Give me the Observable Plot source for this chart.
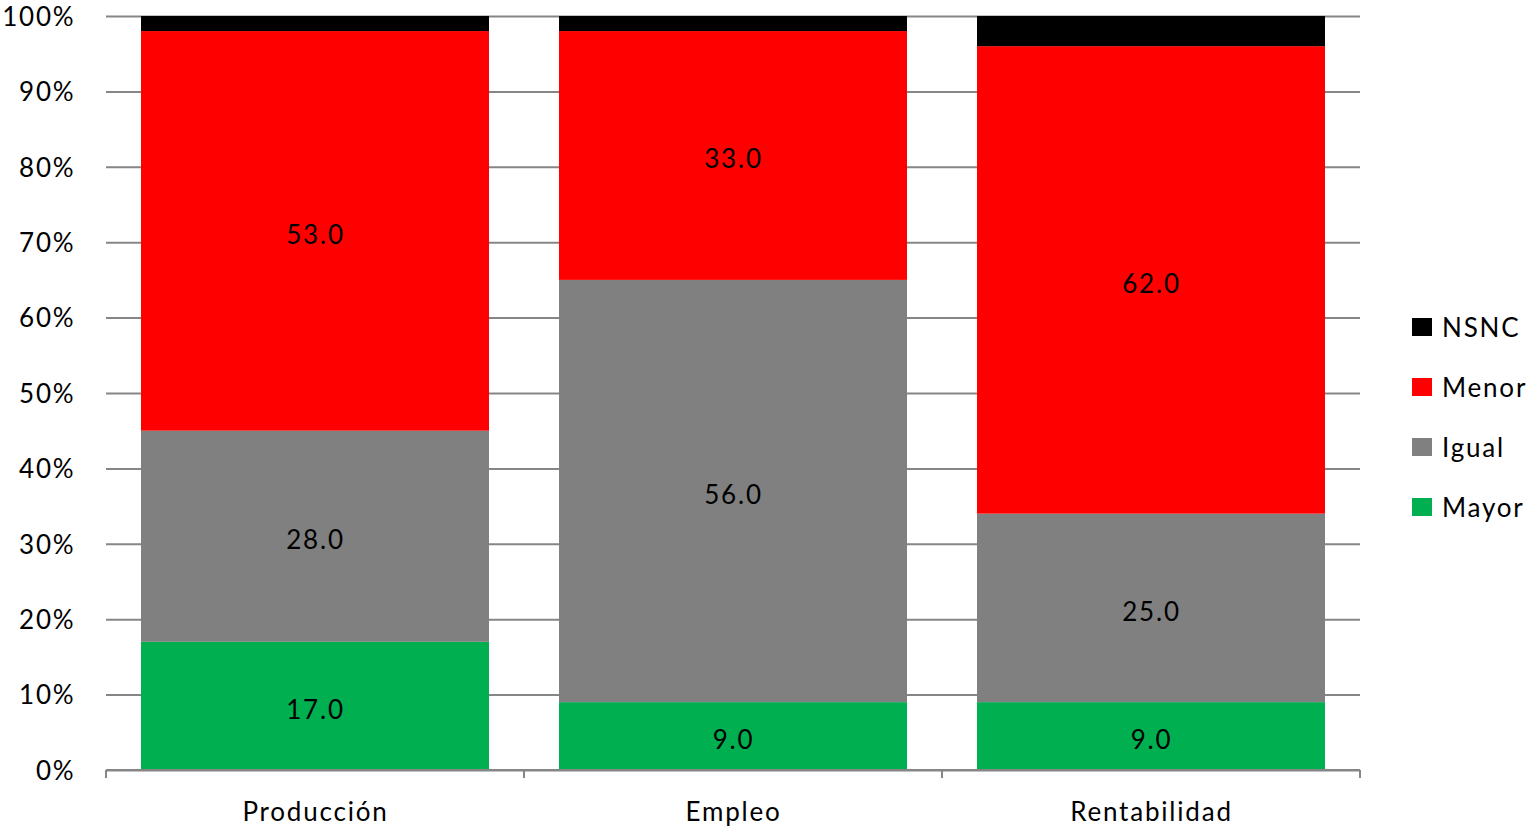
<!DOCTYPE html>
<html>
<head>
<meta charset="utf-8">
<script src="https://cdn.jsdelivr.net/npm/d3@7"></script>
<script src="https://cdn.jsdelivr.net/npm/@observablehq/plot@0.6"></script>
<style>
  html, body { margin: 0; padding: 0; background: #fff; }
  body { width: 1531px; height: 829px; position: relative; overflow: hidden; font-family: Lato, "Noto Sans", sans-serif; }
  #chart { position: absolute; left: 0; top: 0; }
  #chart svg { overflow: visible; }
  #chart svg text { letter-spacing: 1.8px; }
  #legend { position: absolute; left: 1412px; top: 312px; font-size: 26px; color: #000; letter-spacing: 1.8px; }
  .sw { width: 20px; height: 18px; margin-right: 10px; }
  .item { display: flex; align-items: center; height: 30px; margin-bottom: 30px; white-space: nowrap; }
</style>
</head>
<body>
<div id="chart"></div>
<div id="legend"></div>
<script>
const categories = ["Producción", "Empleo", "Rentabilidad"];
const series = ["Mayor", "Igual", "Menor", "NSNC"];
const colors = ["#00B050", "#808080", "#FF0000", "#000000"];
const mayor = [17, 9, 9];
const igual = [28, 56, 25];
const menor = [53, 33, 62];
const nsnc = [2, 2, 4];
const yTicks = [0, 0.1, 0.2, 0.3, 0.4, 0.5, 0.6, 0.7, 0.8, 0.9, 1];

const valuesBySeries = { Mayor: mayor, Igual: igual, Menor: menor, NSNC: nsnc };
const data = [];
categories.forEach((c, i) => {
  series.forEach(s => data.push({ category: c, series: s, value: valuesBySeries[s][i] }));
});

const font = "Lato, 'Noto Sans', sans-serif";
const padInner = 0.167;

const chart = Plot.plot({
  width: 1390,
  height: 829,
  marginLeft: 106,
  marginRight: 30,
  marginTop: 16,
  marginBottom: 59,
  style: { fontFamily: font, fontSize: "26px", color: "#000", background: "#fff" },
  x: { domain: categories, paddingInner: padInner, paddingOuter: padInner / 2, label: null },
  y: { domain: [0, 1], label: null },
  color: { domain: series, range: colors },
  marks: [
    Plot.ruleY(yTicks, { stroke: "#868686", strokeWidth: 2 }),
    Plot.barY(data, Plot.stackY({ x: "category", y: "value", z: "series", fill: "series", order: series, offset: "normalize" })),
    Plot.text(data, Plot.stackY({
      x: "category", y: "value", z: "series", order: series, offset: "normalize",
      text: d => d.series === "NSNC" ? null : d.value.toFixed(1),
      fill: "#000", fontSize: 26, dy: 4
    })),
    Plot.axisY({ ticks: yTicks, tickFormat: d3.format(".0%"), tickSize: 0, tickPadding: 31, fontSize: 26, dy: 1 }),
    Plot.axisX({ tickSize: 0, tickPadding: 32, fontSize: 26 })
  ]
});

// category boundary tick marks on the baseline, derived from the band scale
const xs = chart.scale("x");
const ys = chart.scale("y");
const sx = d3.scaleBand().domain(xs.domain).range(xs.range).paddingInner(xs.paddingInner).paddingOuter(xs.paddingOuter);
const gap = sx.step() - sx.bandwidth();
const bounds = categories.map(c => sx(c) - gap / 2).concat([sx(categories[categories.length - 1]) + sx.bandwidth() + gap / 2]);
const y0 = ys.apply(0);
const g = d3.select(chart).append("g").attr("stroke", "#868686").attr("stroke-width", 2);
g.append("line").attr("x1", bounds[0]).attr("x2", bounds[bounds.length - 1]).attr("y1", y0).attr("y2", y0);
bounds.forEach(b => g.append("line").attr("x1", b).attr("x2", b).attr("y1", y0).attr("y2", y0 + 8));

document.getElementById("chart").appendChild(chart);

const legend = document.getElementById("legend");
series.slice().reverse().forEach(s => {
  const item = document.createElement("div");
  item.className = "item";
  const sw = document.createElement("span");
  sw.className = "sw";
  sw.style.background = colors[series.indexOf(s)];
  const t = document.createElement("span");
  t.textContent = s;
  item.appendChild(sw);
  item.appendChild(t);
  legend.appendChild(item);
});
</script>
</body>
</html>
